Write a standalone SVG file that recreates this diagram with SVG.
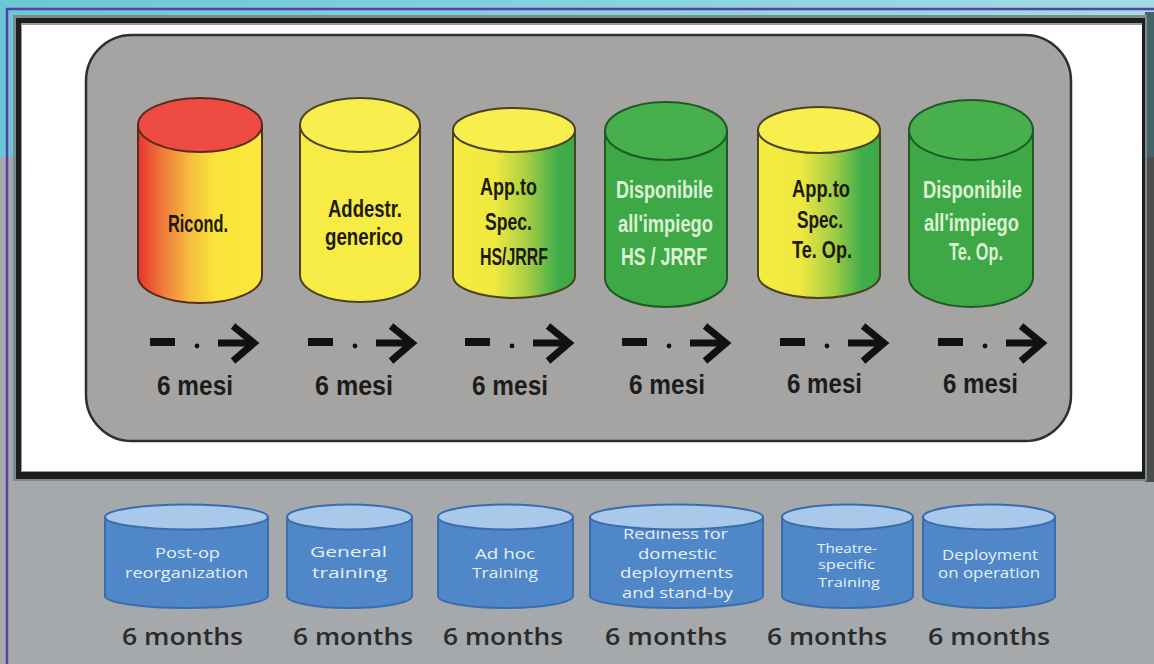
<svg xmlns="http://www.w3.org/2000/svg" width="1154" height="664" viewBox="0 0 1154 664">
<defs>
<linearGradient id="gCyan" x1="0" y1="0" x2="1" y2="0">
<stop offset="0" stop-color="#6cc7d5"/><stop offset="1" stop-color="#a2dce5"/>
</linearGradient>
<linearGradient id="gRed" x1="0" y1="0" x2="1" y2="0">
<stop offset="0" stop-color="#e6342e"/><stop offset="0.2" stop-color="#ef7a3a"/><stop offset="0.42" stop-color="#f6be40"/><stop offset="0.62" stop-color="#f9e43a"/><stop offset="1" stop-color="#fbe93c"/>
</linearGradient>
<linearGradient id="gYG" x1="0" y1="0" x2="1" y2="0">
<stop offset="0" stop-color="#f7ec40"/><stop offset="0.35" stop-color="#eee840"/><stop offset="0.62" stop-color="#a3cd45"/><stop offset="0.85" stop-color="#41ae4a"/><stop offset="1" stop-color="#3aa845"/>
</linearGradient>
<g id="arrow">
<path d="M0,0 H25" stroke="#111" stroke-width="8" fill="none"/>
<circle cx="47" cy="4" r="2.4" fill="#111"/>
<path d="M68,1 H102" stroke="#111" stroke-width="7" fill="none"/>
<path d="M83,-16 L104,1 L83,19" stroke="#111" stroke-width="7" fill="none" stroke-linejoin="miter"/>
</g>
</defs>
<style>
.ct{font-family:"Liberation Sans",Arial,sans-serif;font-weight:bold;font-size:24px;fill:#1c1a0c}
.cl{font-family:"Liberation Sans",Arial,sans-serif;font-weight:bold;font-size:24px;fill:#dcf3d4}
.mesi{font-family:"Liberation Sans",Arial,sans-serif;font-weight:bold;font-size:27px;fill:#1c1c1c}
.bt{font-family:"Open Sans","Liberation Sans",sans-serif;font-size:15px;fill:#e6eff9}
.mon{font-family:"Open Sans","Liberation Sans",sans-serif;font-weight:600;font-size:23px;fill:#2b2b2b}
.bbody{fill:#4f87c8;stroke:#3b6cab;stroke-width:2}
.btop{fill:#a9c9ea;stroke:#3b6cab;stroke-width:2}
.sy{stroke:#4a4320;stroke-width:2}
.sg{stroke:#1f5a26;stroke-width:2}
</style>

<g id="background">
<rect x="0" y="0" width="1154" height="664" fill="#a6a9ab"/>
<rect x="0" y="0" width="1154" height="157" fill="url(#gCyan)"/>
<path d="M6,9 H1154 M7,9 V664" stroke="#5b3ea6" stroke-width="2.5" fill="none"/>
<rect x="1145" y="12" width="9" height="145" fill="#43646a"/>
<rect x="1145" y="157" width="9" height="325" fill="#4d4d4d"/>
</g>

<g id="frame">
<rect x="13" y="15" width="1134" height="466" fill="#7a8c90"/>
<rect x="16" y="18" width="1129" height="461" fill="#1e1e1e"/>
<rect x="21" y="23" width="1121" height="449" fill="#9a9a9a"/>
<rect x="22" y="25" width="1120" height="446" fill="#ffffff"/>
</g>

<g id="panel">
<rect x="86" y="35" width="985" height="406" rx="46" ry="46" fill="#a6a4a3" stroke="#2e2e2e" stroke-width="2.5"/>
</g>

<g id="node-ricond">
<path d="M138,125 V276 A62,27 0 0 0 262,276 V125 Z" fill="url(#gRed)" stroke="#5a2a1a" stroke-width="2"/>
<ellipse cx="200" cy="125" rx="62" ry="27" fill="#ee4c42" stroke="#5a2a1a" stroke-width="2"/>
<text class="ct" x="168" y="232" textLength="60" lengthAdjust="spacingAndGlyphs">Ricond.</text>
</g>

<g id="node-addestr">
<path d="M300,125 V275 A60,27 0 0 0 420,275 V125 Z" fill="#f7ec45" class="sy"/>
<ellipse cx="360" cy="125" rx="60" ry="27" fill="#f8ee4e" class="sy"/>
<text class="ct" x="328" y="217" textLength="74" lengthAdjust="spacingAndGlyphs">Addestr.</text>
<text class="ct" x="325" y="245" textLength="78" lengthAdjust="spacingAndGlyphs">generico</text>
</g>

<g id="node-appto-hs">
<path d="M453,130 V276 A61,22 0 0 0 575,276 V130 Z" fill="url(#gYG)" class="sy"/>
<ellipse cx="514" cy="130" rx="61" ry="22" fill="#f8ee4e" class="sy"/>
<text class="ct" x="480" y="195" textLength="57" lengthAdjust="spacingAndGlyphs">App.to</text>
<text class="ct" x="485" y="230" textLength="47" lengthAdjust="spacingAndGlyphs">Spec.</text>
<text class="ct" x="480" y="265" textLength="68" lengthAdjust="spacingAndGlyphs">HS/JRRF</text>
</g>

<g id="node-disp-hs">
<path d="M605,131 V278 A61,29 0 0 0 727,278 V131 Z" fill="#3ea846" class="sg"/>
<ellipse cx="666" cy="131" rx="61" ry="29" fill="#47b04d" class="sg"/>
<text class="cl" x="616" y="198" textLength="97" lengthAdjust="spacingAndGlyphs">Disponibile</text>
<text class="cl" x="618" y="232" textLength="95" lengthAdjust="spacingAndGlyphs">all'impiego</text>
<text class="cl" x="621" y="265" textLength="86" lengthAdjust="spacingAndGlyphs">HS / JRRF</text>
</g>

<g id="node-appto-teop">
<path d="M758,130 V275 A61,23 0 0 0 880,275 V130 Z" fill="url(#gYG)" class="sy"/>
<ellipse cx="819" cy="130" rx="61" ry="23" fill="#f8ee4e" class="sy"/>
<text class="ct" x="792" y="197" textLength="58" lengthAdjust="spacingAndGlyphs">App.to</text>
<text class="ct" x="797" y="228" textLength="46" lengthAdjust="spacingAndGlyphs">Spec.</text>
<text class="ct" x="792" y="258" textLength="60" lengthAdjust="spacingAndGlyphs">Te. Op.</text>
</g>

<g id="node-disp-teop">
<path d="M909,130 V277 A62,30 0 0 0 1033,277 V130 Z" fill="#3ea846" class="sg"/>
<ellipse cx="971" cy="130" rx="62" ry="30" fill="#47b04d" class="sg"/>
<text class="cl" x="923" y="198" textLength="99" lengthAdjust="spacingAndGlyphs">Disponibile</text>
<text class="cl" x="924" y="231" textLength="95" lengthAdjust="spacingAndGlyphs">all'impiego</text>
<text class="cl" x="949" y="260" textLength="54" lengthAdjust="spacingAndGlyphs">Te. Op.</text>
</g>

<g id="connectors">
<use href="#arrow" transform="translate(150,342)"/>
<use href="#arrow" transform="translate(308,342)"/>
<use href="#arrow" transform="translate(465,342)"/>
<use href="#arrow" transform="translate(622,342)"/>
<use href="#arrow" transform="translate(780,342)"/>
<use href="#arrow" transform="translate(938,342)"/>
</g>

<g id="mesi-labels">
<text class="mesi" x="157" y="395" textLength="76" lengthAdjust="spacingAndGlyphs">6 mesi</text>
<text class="mesi" x="315" y="395" textLength="78" lengthAdjust="spacingAndGlyphs">6 mesi</text>
<text class="mesi" x="472" y="395" textLength="76" lengthAdjust="spacingAndGlyphs">6 mesi</text>
<text class="mesi" x="629" y="394" textLength="76" lengthAdjust="spacingAndGlyphs">6 mesi</text>
<text class="mesi" x="787" y="393" textLength="75" lengthAdjust="spacingAndGlyphs">6 mesi</text>
<text class="mesi" x="943" y="393" textLength="75" lengthAdjust="spacingAndGlyphs">6 mesi</text>
</g>

<g id="node-postop">
<path d="M105,517 V596 A81.5,12 0 0 0 268,596 V517 Z" class="bbody"/>
<text class="bt" x="155" y="558" textLength="65" lengthAdjust="spacingAndGlyphs">Post-op</text>
<text class="bt" x="125" y="578" textLength="123" lengthAdjust="spacingAndGlyphs">reorganization</text>
<ellipse cx="186.5" cy="517" rx="81.5" ry="12.5" class="btop"/>
</g>

<g id="node-general">
<path d="M287,517 V596 A62.5,12 0 0 0 412,596 V517 Z" class="bbody"/>
<text class="bt" x="310" y="557" textLength="77" lengthAdjust="spacingAndGlyphs">General</text>
<text class="bt" x="312" y="578" textLength="75" lengthAdjust="spacingAndGlyphs">training</text>
<ellipse cx="349.5" cy="517" rx="62.5" ry="12.5" class="btop"/>
</g>

<g id="node-adhoc">
<path d="M438,517 V596 A67.5,12 0 0 0 573,596 V517 Z" class="bbody"/>
<text class="bt" x="475" y="559" textLength="60" lengthAdjust="spacingAndGlyphs">Ad hoc</text>
<text class="bt" x="472" y="578" textLength="66" lengthAdjust="spacingAndGlyphs">Training</text>
<ellipse cx="505.5" cy="517" rx="67.5" ry="12.5" class="btop"/>
</g>

<g id="node-readiness">
<path d="M590,517 V596 A86.5,12 0 0 0 763,596 V517 Z" class="bbody"/>
<text class="bt" x="623" y="539" textLength="105" lengthAdjust="spacingAndGlyphs">Rediness for</text>
<text class="bt" x="638" y="559" textLength="79" lengthAdjust="spacingAndGlyphs">domestic</text>
<text class="bt" x="620" y="578" textLength="113" lengthAdjust="spacingAndGlyphs">deployments</text>
<text class="bt" x="622" y="598" textLength="111" lengthAdjust="spacingAndGlyphs">and stand-by</text>
<ellipse cx="676.5" cy="517" rx="86.5" ry="12.5" class="btop"/>
</g>

<g id="node-theatre">
<path d="M782,517 V596 A65.5,12 0 0 0 913,596 V517 Z" class="bbody"/>
<text class="bt" x="817" y="553" textLength="60" lengthAdjust="spacingAndGlyphs" style="font-size:13px">Theatre-</text>
<text class="bt" x="818" y="569" textLength="57" lengthAdjust="spacingAndGlyphs" style="font-size:13px">specific</text>
<text class="bt" x="818" y="587" textLength="62" lengthAdjust="spacingAndGlyphs" style="font-size:13px">Training</text>
<ellipse cx="847.5" cy="517" rx="65.5" ry="12.5" class="btop"/>
</g>

<g id="node-deployment">
<path d="M923,517 V596 A66,12 0 0 0 1055,596 V517 Z" class="bbody"/>
<text class="bt" x="942" y="560" textLength="96" lengthAdjust="spacingAndGlyphs" style="font-size:14px">Deployment</text>
<text class="bt" x="938" y="578" textLength="102" lengthAdjust="spacingAndGlyphs" style="font-size:14px">on operation</text>
<ellipse cx="989" cy="517" rx="66" ry="12.5" class="btop"/>
</g>

<g id="months-labels">
<text class="mon" x="122" y="645" textLength="121" lengthAdjust="spacingAndGlyphs">6 months</text>
<text class="mon" x="293" y="645" textLength="120" lengthAdjust="spacingAndGlyphs">6 months</text>
<text class="mon" x="443" y="645" textLength="120" lengthAdjust="spacingAndGlyphs">6 months</text>
<text class="mon" x="605" y="645" textLength="122" lengthAdjust="spacingAndGlyphs">6 months</text>
<text class="mon" x="767" y="645" textLength="120" lengthAdjust="spacingAndGlyphs">6 months</text>
<text class="mon" x="928" y="645" textLength="122" lengthAdjust="spacingAndGlyphs">6 months</text>
</g>
</svg>
